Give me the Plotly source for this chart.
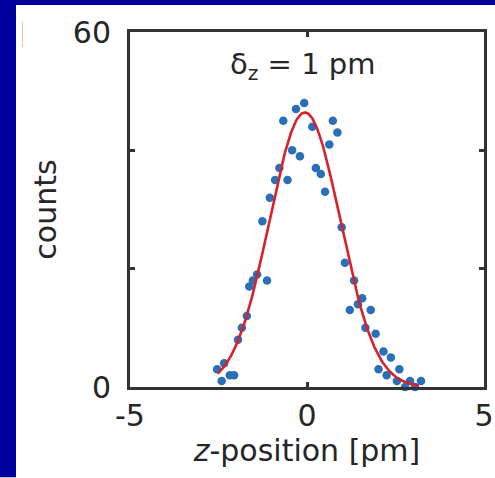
import numpy as np
import plotly.graph_objects as go

# measured z-positions [pm] and counts
z_pos = [-0.67, -0.31, -0.08, 0.15, 0.73, 0.86, 0.63, -0.42, -0.20, -0.78,
         0.25, 0.39, -0.90, -0.55, 0.51, -1.05, -1.26, 0.98, -1.41, -1.53,
         -1.63, -1.13, 1.07, 1.33, 1.56, 1.44, 1.21, 1.80, 1.65, 1.94,
         2.16, 2.37, 2.02, 2.61, 2.25, 2.54, 2.77, 2.91, 3.05, 3.22,
         -1.70, -1.84, -1.95, -2.34, -2.54, -2.41, -2.18, -2.06]
counts = [45, 47, 48, 44, 45, 43, 41, 40, 39, 37,
          37, 36, 35, 35, 33, 32, 28, 27, 19, 18,
          17, 18, 21, 18, 15, 14, 13, 13, 10, 9,
          6, 5, 3, 3, 2, 1, 0, 1, 0, 1,
          12, 10, 8, 4, 3, 1, 2, 2]

# Gaussian fit parameters
fit_amplitude = 46.4
fit_center = -0.06
fit_sigma = 1.0
fit_range = [-2.52, 3.16]

x_ticks = [-5, 0, 5]
x_ticktext = ["-5", "0", "5"]
y_ticks = [0, 20, 40, 60]
y_ticktext = ["0", "", "", "60"]

fx = np.linspace(fit_range[0], fit_range[1], 300)
fy = fit_amplitude * np.exp(-(fx - fit_center) ** 2 / (2 * fit_sigma ** 2))

FONT = "DejaVu Sans, Liberation Sans, Arial, sans-serif"
TXT = "#262626"
FRAME_BLUE = "#00009c"

fig = go.Figure()
fig.add_trace(go.Scatter(x=z_pos, y=counts, mode="markers",
                         marker=dict(size=8.5, color="#2a6fba"),
                         showlegend=False, cliponaxis=False))
fig.add_trace(go.Scatter(x=fx, y=fy, mode="lines",
                         line=dict(color="#d7212b", width=2.6),
                         showlegend=False))

L, R, T, B = 130, 11, 32, 90.5
W, H = 495, 478
pw, ph = W - L - R, H - T - B

def px(xp):
    return (xp - L) / pw

def py(yp):
    return (H - B - yp) / ph

shapes = [
    # blue slide frame: left strip and top strip
    dict(type="rect", xref="paper", yref="paper", x0=px(0), x1=px(16),
         y0=py(H), y1=py(0), fillcolor=FRAME_BLUE, line=dict(width=0), layer="below"),
    dict(type="rect", xref="paper", yref="paper", x0=px(0), x1=px(W),
         y0=py(5), y1=py(0), fillcolor=FRAME_BLUE, line=dict(width=0), layer="below"),
    dict(type="line", xref="paper", yref="paper", x0=px(22.5), x1=px(22.5),
         y0=py(22), y1=py(47), line=dict(color="#e9c796", width=1)),
]

fig.update_layout(
    width=W, height=H, autosize=False,
    margin=dict(l=L, r=R, t=T, b=B, pad=0, autoexpand=False),
    paper_bgcolor="white",
    plot_bgcolor="white",
    shapes=shapes,
    font=dict(family=FONT, color=TXT, size=30),
    xaxis=dict(range=[-5, 5], tickvals=x_ticks, ticktext=x_ticktext,
               automargin=False,
               showgrid=False, zeroline=False, showline=True, mirror="ticks",
               linecolor="#333333", linewidth=3, ticks="inside", ticklen=5,
               tickwidth=2.5, tickcolor="#333333",
               tickfont=dict(size=30, family=FONT, color=TXT),
               title=dict(text="<i>z</i>-position [pm]", standoff=6,
                          font=dict(size=30, family=FONT, color=TXT))),
    yaxis=dict(range=[0, 60], tickvals=y_ticks, ticktext=y_ticktext,
               automargin=False,
               showgrid=False, zeroline=False, showline=True, mirror="ticks",
               linecolor="#333333", linewidth=3, ticks="inside", ticklen=5,
               tickwidth=2.5, tickcolor="#333333", ticklabelstandoff=10,
               tickfont=dict(size=30, family=FONT, color=TXT),
               title=dict(text="counts", standoff=8,
                          font=dict(size=30, family=FONT, color=TXT))),
    annotations=[dict(x=-0.14, y=54.3, xref="x", yref="y",
                      text="δ<sub>z</sub> = 1 pm", showarrow=False,
                      font=dict(size=29, family=FONT, color=TXT))],
)

fig.write_html("out.html",
               config={"responsive": False, "displayModeBar": False},
               post_script="document.body.style.margin='0';document.body.style.overflow='hidden';")
